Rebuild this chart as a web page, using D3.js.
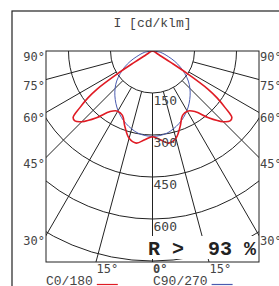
<!DOCTYPE html>
<html lang="en">
<head>
<meta charset="UTF-8">
<title>polar diagram</title>
<script src="https://d3js.org/d3.v7.min.js"></script>
<style>
    body{margin:0;background:#fff;}
    text{font-family:"Liberation Mono",monospace;fill:#444;}
    .tick{font-family:"DejaVu Sans Mono",monospace;font-size:12px;}
    .grid{stroke:#222;stroke-width:1;fill:none;}
</style>
</head>
<body>
<div id="fig"></div>
<script>
    // gamma angles (deg, from nadir) and intensities in cd/klm
    let anglesC0  = [0, 5, 10, 15, 20, 25, 30, 35, 40, 45, 48, 50, 52, 54, 55.5, 57, 58, 60, 70, 90]
    let c0_180    = [306, 318, 334, 323, 288, 254, 248, 264, 311, 357, 373, 370, 330, 285, 240, 150, 75, 25, 6, 0]
    let anglesC90 = [0, 5, 10, 15, 20, 25, 30, 35, 40, 45, 50, 55, 60, 65, 70, 80, 90]
    let c90_270   = [305, 303, 298, 288, 276, 262, 246, 228, 209, 189, 167, 141, 115, 88, 62, 30, 0]
    let rings    = [150, 300, 450, 600, 750]
    let spokes   = [-75, -60, -45, -30, -15, 0, 15, 30, 45, 60, 75]
    let sideLabels = [90, 75, 60, 45, 30]
    let bottomLabels = [-15, 0, 15]
    let ratio = "R >  93 %"

    let W = 279, H = 286
    let pLeft = 46, pRight = 259, pTop = 51, pBottom = 262
    let cx = (pLeft + pRight) / 2, cy = pTop

    let svg = d3.select("#fig").append("svg").attr("width", W).attr("height", H)

    // outer frame
    svg.append("rect").attr("x", 12).attr("y", 11).attr("width", 300).attr("height", 300)
        .attr("fill", "none").attr("stroke", "#222").attr("stroke-width", 1.2)

    svg.append("text").attr("x", cx).attr("y", 27).attr("text-anchor", "middle")
        .style("font-size", "13px").text("I [cd/klm]")

    let r = d3.scaleLinear().domain([0, 750]).range([0, 210])

    svg.append("clipPath").attr("id", "clip").append("rect")
        .attr("x", pLeft).attr("y", pTop).attr("width", pRight - pLeft).attr("height", pBottom - pTop)

    let g = svg.append("g").attr("clip-path", "url(#clip)")
    let rad = d => d * Math.PI / 180

    // rings
    g.selectAll(".ring").data(rings).enter().append("circle").attr("class", "grid")
        .attr("cx", cx).attr("cy", cy).attr("r", d => r(d))

    // spokes, starting at the first ring
    g.selectAll(".spoke").data(spokes).enter().append("line").attr("class", "grid")
        .attr("x1", d => cx + r(150) * Math.sin(rad(d)))
        .attr("y1", d => cy + r(150) * Math.cos(rad(d)))
        .attr("x2", d => cx + r(1200) * Math.sin(rad(d)))
        .attr("y2", d => cy + r(1200) * Math.cos(rad(d)))

    // curves (symmetric: mirror the half curve)
    function full(angles, vals){
        let pts = []
        for (let i = angles.length - 1; i > 0; i--) pts.push([-angles[i], vals[i]])
        for (let i = 0; i < angles.length; i++) pts.push([angles[i], vals[i]])
        return pts
    }
    let line = d3.lineRadial()
        .angle(d => Math.PI - rad(d[0]))
        .radius(d => r(d[1]))
        .curve(d3.curveCatmullRom)

    g.append("path").attr("transform", `translate(${cx},${cy})`)
        .attr("d", line(full(anglesC90, c90_270))).attr("fill", "none")
        .attr("stroke", "#4a5bb0").attr("stroke-width", 1)
    g.append("path").attr("transform", `translate(${cx},${cy})`)
        .attr("d", line(full(anglesC0, c0_180))).attr("fill", "none")
        .attr("stroke", "#e01b24").attr("stroke-width", 1.6)

    // plot border
    svg.append("rect").attr("x", pLeft).attr("y", pTop).attr("width", pRight - pLeft).attr("height", pBottom - pTop)
        .attr("fill", "none").attr("stroke", "#222").attr("stroke-width", 1)

    // ring labels
    svg.selectAll(".rl").data(rings.slice(0, 4)).enter().append("text")
        .attr("x", cx + 1).attr("y", d => cy + r(d) + 12)
        .style("font-size", "13px").style("font-family", "DejaVu Sans Mono")
        .text(d => d)

    // side angle labels
    let hitY = d => d == 90 ? pTop : pTop + (cx - pLeft) / Math.tan(rad(d))
    svg.selectAll(".ls").data(sideLabels).enter().append("text").attr("class", "tick")
        .attr("x", pLeft - 1).attr("y", d => hitY(d) + 10).attr("text-anchor", "end")
        .text(d => d + "°")
    svg.selectAll(".rs").data(sideLabels).enter().append("text").attr("class", "tick")
        .attr("x", pRight + 1).attr("y", d => hitY(d) + 10)
        .text(d => d + "°")

    // ratio box
    svg.append("rect").attr("x", 129).attr("y", 236).attr("width", 129).attr("height", 23).attr("fill", "#fff")
    svg.append("text").attr("x", 148).attr("y", 255)
        .style("font-size", "20px").style("font-weight", "bold").style("fill", "#222")
        .attr("xml:space", "preserve").text(ratio)

    // bottom angle labels
    svg.selectAll(".bl").data(bottomLabels).enter().append("text").attr("class", "tick")
        .attr("x", d => cx + (pBottom - pTop) * Math.tan(rad(d)) + 0.5).attr("y", 273)
        .style("font-weight", d => d == 0 ? "bold" : "normal")
        .text(d => Math.abs(d) + "°")

    // legend
    let legend = [["C0/180", "#e01b24", 46], ["C90/270", "#4a5bb0", 153]]
    legend.forEach(function (d) {
        let t = svg.append("text").attr("x", d[2]).attr("y", 284.5).style("font-size", "13px").text(d[0])
        let w = t.node().getComputedTextLength()
        svg.append("line").attr("x1", d[2] + w + 4).attr("x2", d[2] + w + 25)
            .attr("y1", 284.5).attr("y2", 284.5).attr("stroke", d[1]).attr("stroke-width", 1.2)
    })
</script>
</body>
</html>
